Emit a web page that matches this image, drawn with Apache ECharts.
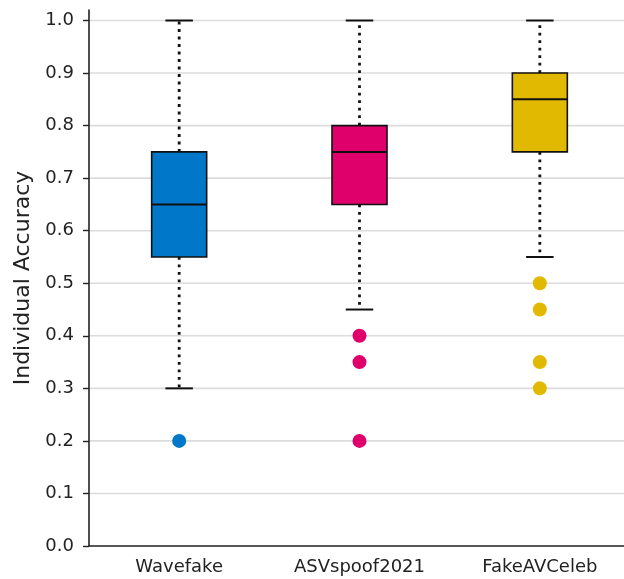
<!DOCTYPE html>
<html>
<head>
<meta charset="utf-8">
<script src="https://cdn.jsdelivr.net/npm/echarts@6/dist/echarts.min.js"></script>
<style>
html,body{margin:0;padding:0;background:#fff;overflow:hidden;width:624px;height:579px;}
#chart{width:630px;height:579px;}
</style>
</head>
<body>
<div id="chart"></div>
<script>
// ---- data ----
const categories = ['Wavefake', 'ASVspoof2021', 'FakeAVCeleb'];
const whiskerLow = [0.30, 0.45, 0.55];
const q1 = [0.55, 0.65, 0.75];
const median = [0.65, 0.75, 0.85];
const q3 = [0.75, 0.80, 0.90];
const whiskerHigh = [1.00, 1.00, 1.00];
const outliersWavefake = [0.20];
const outliersASVspoof = [0.40, 0.35, 0.20];
const outliersFakeAV = [0.50, 0.45, 0.35, 0.30];
const yTicks = [0.0, 0.1, 0.2, 0.3, 0.4, 0.5, 0.6, 0.7, 0.8, 0.9, 1.0];
const gridValues = [0.1, 0.2, 0.3, 0.4, 0.5, 0.6, 0.7, 0.8, 0.9, 1.0];

const colors = ['#0077c8', '#e0006b', '#e1b900'];
const outlierLists = [outliersWavefake, outliersASVspoof, outliersFakeAV];

const boxData = categories.map((c, i) => [i, whiskerLow[i], q1[i], median[i], q3[i], whiskerHigh[i]]);

function renderBox(params, api) {
  const idx = api.value(0);
  const band = api.size([1, 0])[0];
  const bw = band * 0.305;
  const cw = bw * 0.5;
  const pLow = api.coord([idx, api.value(1)]);
  const pQ1 = api.coord([idx, api.value(2)]);
  const pMed = api.coord([idx, api.value(3)]);
  const pQ3 = api.coord([idx, api.value(4)]);
  const pHigh = api.coord([idx, api.value(5)]);
  const x = pQ1[0];
  const dotted = {stroke: '#111', lineWidth: 2.8, lineDash: [2.8, 4.7], lineCap: 'butt'};
  const solid = {stroke: '#111', lineWidth: 2};
  return {
    type: 'group',
    children: [
      {type: 'line', shape: {x1: x, y1: pQ3[1], x2: x, y2: pHigh[1]}, style: dotted},
      {type: 'line', shape: {x1: x, y1: pQ1[1], x2: x, y2: pLow[1]}, style: dotted},
      {type: 'line', shape: {x1: x - cw / 2, y1: pHigh[1], x2: x + cw / 2, y2: pHigh[1]}, style: solid},
      {type: 'line', shape: {x1: x - cw / 2, y1: pLow[1], x2: x + cw / 2, y2: pLow[1]}, style: solid},
      {type: 'rect', shape: {x: x - bw / 2, y: pQ3[1], width: bw, height: pQ1[1] - pQ3[1]},
        style: {fill: colors[idx], stroke: '#111', lineWidth: 1.6}},
      {type: 'line', shape: {x1: x - bw / 2, y1: pMed[1], x2: x + bw / 2, y2: pMed[1]},
        style: {stroke: '#111', lineWidth: 2}}
    ]
  };
}

function renderGrid(params, api) {
  const cs = params.coordSys;
  const p = api.coord([0, api.value(0)]);
  return {
    type: 'line',
    shape: {x1: cs.x, y1: p[1], x2: cs.x + cs.width, y2: p[1]},
    style: {stroke: '#dcdcdc', lineWidth: 1.6}
  };
}

const scatterSeries = outlierLists.map((list, i) => ({
  type: 'scatter',
  z: 4,
  symbol: 'circle',
  symbolSize: 14,
  itemStyle: {color: colors[i], opacity: 1},
  data: list.map(v => [categories[i], v]),
  silent: true
}));

const chart = echarts.init(document.getElementById('chart'), null, {renderer: 'canvas'});
chart.setOption({
  animation: false,
  backgroundColor: '#ffffff',
  textStyle: {fontFamily: 'DejaVu Sans'},
  grid: {left: 89, right: 0, top: 10, bottom: 33, containLabel: false},
  xAxis: {
    type: 'category',
    data: categories,
    boundaryGap: true,
    z: 5,
    axisLine: {lineStyle: {color: '#222', width: 1.6}},
    axisTick: {alignWithLabel: true, length: 6, lineStyle: {color: '#222', width: 1.4}},
    axisLabel: {fontSize: 18, color: '#222', margin: 12, fontFamily: 'DejaVu Sans'},
    splitLine: {show: false}
  },
  yAxis: {
    type: 'value',
    min: 0,
    max: 1.02,
    z: 5,
    name: 'Individual Accuracy',
    nameLocation: 'middle',
    nameGap: 48,
    nameTextStyle: {fontSize: 22, color: '#222', fontFamily: 'DejaVu Sans'},
    axisLine: {show: true, lineStyle: {color: '#222', width: 1.6}},
    axisTick: {show: true, length: 6, customValues: yTicks, lineStyle: {color: '#222', width: 1.4}},
    axisLabel: {fontSize: 18, color: '#222', margin: 15, customValues: yTicks,
      formatter: v => v.toFixed(1), fontFamily: 'DejaVu Sans'},
    splitLine: {show: false}
  },
  series: [
    {
      type: 'custom',
      z: 1,
      renderItem: renderGrid,
      data: gridValues.map(v => [v]),
      encode: {y: 0},
      silent: true
    },
    {
      type: 'custom',
      z: 3,
      renderItem: renderBox,
      data: boxData,
      silent: true
    },
    ...scatterSeries
  ]
});
</script>
</body>
</html>
